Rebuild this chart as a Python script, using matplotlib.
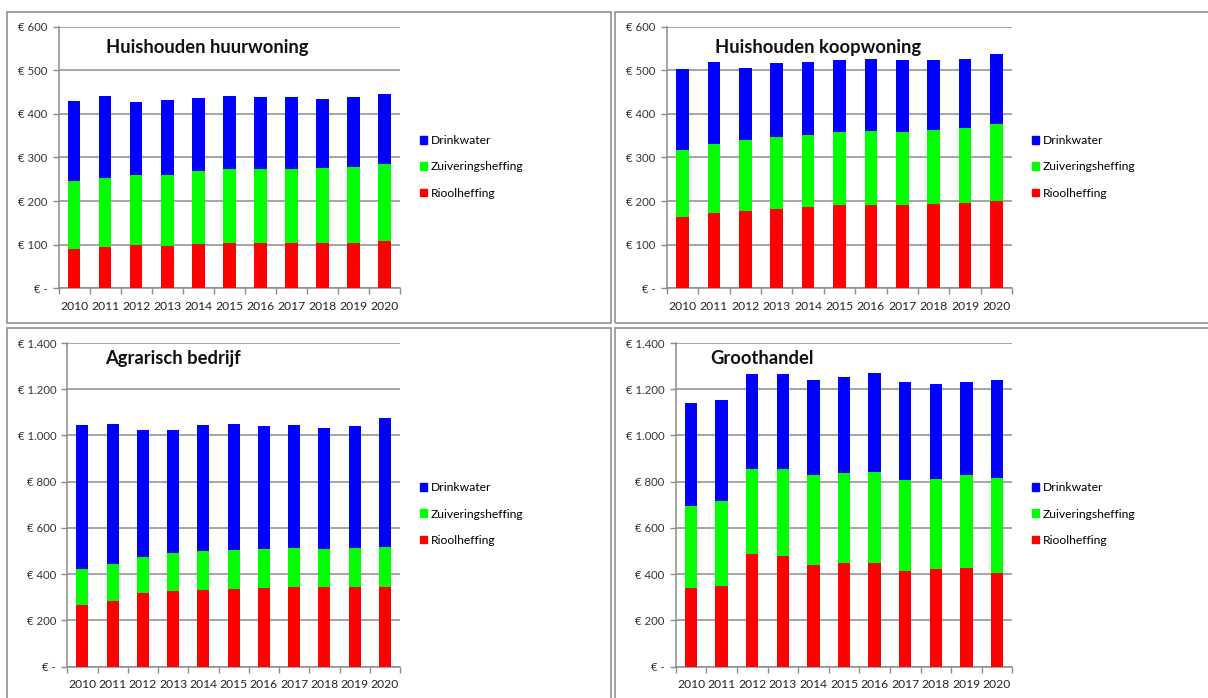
import numpy as np
import matplotlib; matplotlib.use("Agg")
import matplotlib.pyplot as plt
from matplotlib.patches import Patch, Rectangle
from matplotlib.ticker import FuncFormatter

plt.rcParams['font.family'] = ['Lato', 'DejaVu Sans']

years = [str(y) for y in range(2010, 2021)]
series = ["Rioolheffing", "Zuiveringsheffing", "Drinkwater"]
colors = ["#FF0000", "#00FF00", "#0000FF"]

# values per panel (euro)
huur_riool = [91, 94, 99, 97, 102, 105, 104, 104, 104, 105, 108]
huur_zuiv = [154, 158, 161, 164, 167, 169, 170, 170, 171, 173, 176]
huur_drink = [184, 188, 167, 170, 168, 166, 164, 164, 159, 160, 161]

koop_riool = [164, 172, 178, 183, 186, 190, 192, 190, 193, 196, 200]
koop_zuiv = [153, 158, 161, 163, 166, 168, 169, 169, 169, 172, 176]
koop_drink = [187, 188, 166, 171, 168, 165, 164, 165, 161, 159, 162]

agr_riool = [267, 284, 317, 326, 332, 337, 340, 343, 343, 343, 343]
agr_zuiv = [154, 160, 159, 164, 167, 168, 171, 170, 168, 170, 176]
agr_drink = [623, 606, 546, 535, 545, 545, 530, 531, 522, 528, 557]

groot_riool = [340, 349, 486, 477, 441, 450, 450, 415, 421, 427, 405]
groot_zuiv = [357, 368, 369, 378, 387, 388, 394, 391, 389, 401, 410]
groot_drink = [442, 437, 410, 410, 414, 414, 427, 427, 411, 405, 425]

panels = [
    ("Huishouden huurwoning", [huur_riool, huur_zuiv, huur_drink], 600, 100,
     (58.7, 26.7, 400, 288.3), (7.3, 11.7, 611, 322.7), (0.139, 0.922), 167),
    ("Huishouden koopwoning", [koop_riool, koop_zuiv, koop_drink], 600, 100,
     (666.7, 26.7, 1012.3, 288.3), (615, 11.7, 1212, 322.7), (0.14, 0.922), 167),
    ("Agrarisch bedrijf", [agr_riool, agr_zuiv, agr_drink], 1400, 200,
     (67.3, 343, 400, 666.7), (7.3, 327.7, 611, 702), (0.113, 0.953), 514),
    ("Groothandel", [groot_riool, groot_zuiv, groot_drink], 1400, 200,
     (675.7, 343, 1012.3, 666.7), (615, 327.7, 1212, 702), (0.102, 0.953), 514),
]

W, H = 1208, 698
fig = plt.figure(figsize=(W / 100, H / 100), dpi=100)
fig.patch.set_facecolor("white")


def euro(v, pos):
    if v == 0:
        return "€ -"
    return "€ " + f"{v:,.0f}".replace(",", ".")


x = np.arange(len(years))
for title, vals, ymax, step, ax_px, box_px, tpos, leg_y in panels:
    bx0, by0, bx1, by1 = box_px
    fig.patches.append(Rectangle((bx0 / W, 1 - by1 / H), (bx1 - bx0) / W, (by1 - by0) / H,
                                 transform=fig.transFigure, fill=False,
                                 edgecolor="#9a9a9a", lw=1.3, zorder=0))
    x0, y0, x1, y1 = ax_px
    ax = fig.add_axes([x0 / W, 1 - y1 / H, (x1 - x0) / W, (y1 - y0) / H])
    bottom = np.zeros(len(years))
    for v, c, name in zip(vals, colors, series):
        ax.bar(x, v, 0.4, bottom=bottom, color=c, label=name, zorder=3)
        bottom += np.array(v)
    ax.set_xlim(-0.5, len(years) - 0.5)
    ax.set_ylim(0, ymax)
    ax.set_yticks(np.arange(0, ymax + 1, step))
    ax.yaxis.set_major_formatter(FuncFormatter(euro))
    ax.grid(axis="y", color="#8c8c8c", lw=1.1, zorder=0)
    ax.set_axisbelow(True)
    ax.set_xticks(x)
    ax.set_xticklabels(years)
    ax.set_xticks(np.arange(-0.5, len(years), 1), minor=True)
    ax.tick_params(axis="x", which="major", length=0, pad=9, labelsize=8.7, labelcolor="#222222")
    ax.tick_params(axis="x", which="minor", length=4, color="#8c8c8c", width=1)
    ax.tick_params(axis="y", length=4, color="#8c8c8c", width=1, pad=4,
                   labelsize=8.2, labelcolor="#333333")
    for s in ("top", "right"):
        ax.spines[s].set_visible(False)
    for s in ("left", "bottom"):
        ax.spines[s].set_color("#8c8c8c")
        ax.spines[s].set_linewidth(1.1)
    ax.text(tpos[0], tpos[1], title, transform=ax.transAxes, fontsize=13.2,
            fontweight="bold", va="center", ha="left", color="#111111")
    handles = [Patch(color=c) for c in colors[::-1]]
    ax.legend(handles, series[::-1], loc="center left",
              bbox_to_anchor=((x1 + 19.5) / W, 1 - leg_y / H), bbox_transform=fig.transFigure,
              frameon=False, fontsize=8.7, handlelength=0.6, handleheight=0.6,
              handletextpad=0.3, labelspacing=1.25, borderpad=0, borderaxespad=0)

fig.savefig("out.png", dpi=100)
